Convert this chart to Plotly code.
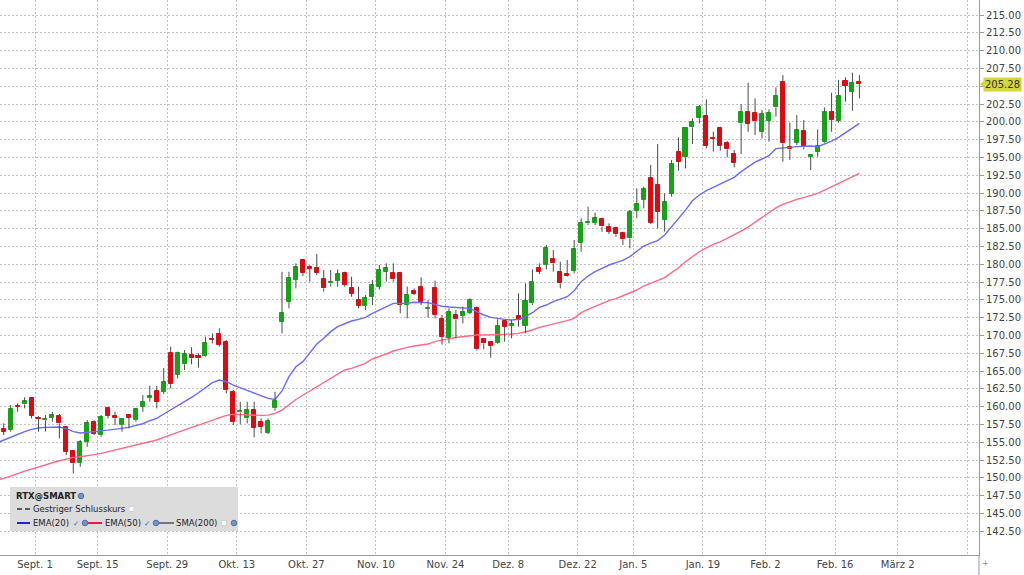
import plotly.graph_objects as go

# ---------------- data ----------------
first_index = -5  # trading-day index of first candle (Aug 25); 0 = Sept 2
opens = [156.80, 156.71, 160.13, 160.31, 161.16, 158.44, 158.07, 158.39, 158.68, 157.08,
         153.76, 152.12, 155.07, 157.83, 156.00, 159.85, 158.68, 157.41, 158.77, 158.11,
         159.99, 161.25, 162.20, 162.05, 167.53, 164.44, 165.94, 167.25, 167.11, 167.11,
         169.50, 170.15, 169.12, 162.10, 159.20, 158.35, 159.52, 157.79, 156.34, 159.76,
         171.93, 174.74, 177.78, 180.59, 179.65, 179.42, 177.92, 177.31, 177.69, 178.72,
         176.61, 174.97, 174.13, 175.44, 176.85, 178.95, 178.72, 178.81, 174.27, 176.24,
         176.85, 173.71, 176.61, 172.35, 169.59, 172.87, 172.73, 173.19, 173.80, 169.45,
         169.12, 168.89, 172.07, 171.37, 172.73, 171.32, 174.50, 179.51, 179.89, 180.68,
         178.95, 178.62, 179.09, 183.02, 185.74, 185.83, 186.30, 185.22, 185.04, 184.34,
         183.63, 187.52, 189.02, 192.06, 191.12, 186.20, 189.86, 195.80, 195.00, 199.22,
         200.49, 200.81, 197.77, 199.18, 196.97, 195.48, 199.78, 201.42, 201.19, 198.61,
         200.16, 202.03, 205.64, 196.41, 197.07, 198.71, 195.10, 195.80, 197.21, 201.42,
         200.16, 205.78, 204.23, 205.64]
highs = [157.65, 160.22, 160.45, 161.30, 161.30, 158.68, 158.82, 159.28, 158.96, 157.27,
         153.85, 155.30, 158.11, 158.11, 158.82, 159.99, 159.28, 158.35, 158.96, 159.75,
         161.63, 162.94, 162.90, 165.40, 168.41, 167.72, 167.95, 168.33, 167.48, 169.82,
         170.29, 170.99, 169.36, 162.33, 160.69, 160.69, 160.69, 158.35, 158.35, 162.10,
         178.95, 178.95, 180.12, 180.68, 179.89, 181.43, 179.19, 179.19, 179.28, 178.95,
         178.25, 176.85, 175.68, 177.78, 179.89, 180.12, 180.12, 178.95, 176.85, 176.61,
         178.16, 174.97, 177.69, 172.87, 173.80, 173.57, 174.04, 175.21, 174.04, 169.59,
         169.20, 172.26, 172.16, 172.16, 175.91, 177.31, 179.28, 180.12, 182.70, 181.99,
         180.36, 180.59, 183.40, 186.44, 188.08, 187.24, 186.55, 185.74, 185.27, 184.57,
         187.62, 190.65, 190.89, 193.93, 196.88, 189.95, 194.63, 197.82, 199.20, 200.49,
         202.36, 203.15, 198.61, 199.30, 197.30, 196.04, 202.50, 205.50, 203.30, 201.66,
         201.75, 204.84, 206.57, 199.88, 200.96, 200.25, 195.40, 198.94, 202.03, 204.09,
         205.87, 206.25, 206.90, 206.57]
lows = [156.00, 156.48, 159.28, 159.75, 158.35, 156.48, 156.48, 157.88, 155.54, 153.20,
        150.62, 151.56, 154.37, 156.00, 155.77, 158.35, 157.41, 156.48, 156.94, 157.88,
        159.28, 160.69, 159.75, 161.80, 162.56, 163.97, 165.14, 165.94, 165.47, 167.02,
        168.89, 168.42, 161.86, 157.42, 157.51, 157.65, 155.69, 156.25, 156.15, 159.43,
        170.29, 173.80, 176.61, 178.34, 177.55, 178.48, 176.14, 176.85, 176.85, 176.85,
        175.44, 173.80, 173.57, 174.27, 176.47, 177.55, 177.55, 173.10, 172.40, 175.68,
        174.27, 172.49, 172.40, 168.70, 168.89, 169.59, 171.70, 173.00, 167.86, 168.04,
        166.87, 168.79, 169.12, 169.59, 171.23, 170.29, 174.27, 178.62, 179.28, 178.95,
        176.61, 178.25, 178.72, 181.76, 185.50, 185.50, 184.57, 184.24, 183.87, 182.70,
        182.23, 186.44, 187.85, 185.65, 185.04, 184.57, 189.49, 193.14, 193.46, 196.88,
        199.78, 196.27, 195.80, 195.94, 195.01, 193.60, 195.48, 198.61, 198.15, 197.68,
        197.21, 200.72, 194.40, 194.64, 196.74, 196.13, 193.23, 195.10, 197.07, 198.61,
        199.88, 202.83, 201.56, 203.30]
closes = [156.45, 159.66, 159.94, 160.78, 158.68, 158.21, 158.30, 158.77, 157.65, 153.67,
          152.03, 155.07, 157.74, 156.15, 158.49, 158.68, 158.39, 158.26, 158.44, 159.61,
          160.69, 161.50, 160.65, 163.50, 163.20, 167.48, 167.34, 166.78, 166.78, 168.89,
          169.36, 168.65, 162.33, 157.88, 159.40, 159.52, 157.06, 157.18, 157.98, 160.80,
          173.19, 178.11, 179.56, 178.81, 179.37, 178.81, 176.61, 177.55, 178.62, 177.08,
          175.82, 174.13, 175.21, 177.08, 179.19, 179.42, 177.88, 174.27, 175.68, 175.82,
          174.74, 173.90, 172.87, 169.78, 173.33, 172.26, 173.33, 174.97, 168.04, 168.89,
          168.56, 171.32, 171.23, 171.60, 172.16, 174.83, 177.55, 178.95, 182.23, 180.12,
          177.31, 178.34, 182.09, 185.83, 185.97, 186.44, 185.30, 184.57, 184.20, 183.50,
          187.38, 188.45, 190.51, 185.83, 187.38, 188.69, 194.07, 194.40, 199.08, 200.02,
          202.13, 196.60, 197.58, 196.60, 196.13, 194.26, 201.42, 199.72, 200.16, 201.10,
          201.28, 203.62, 196.98, 196.13, 198.85, 196.41, 195.34, 196.60, 201.42, 200.25,
          203.62, 205.03, 205.50, 205.28]

ema_first_index = -6
ema20 = [154.90, 155.30, 155.77, 156.15, 156.48, 156.80, 157.00, 157.08, 157.08, 157.13,
         156.90, 156.48, 156.30, 156.43, 156.50, 156.60, 156.70, 156.80, 156.94, 157.08,
         157.37, 157.60, 158.02, 158.35, 158.96, 159.52, 160.20, 160.69, 161.30, 161.95,
         162.65, 163.36, 163.73, 163.50, 163.03, 162.66, 162.30, 161.86, 161.48, 161.16,
         161.00, 162.20, 164.20, 165.60, 166.31, 167.48, 168.79, 169.59, 170.53, 171.23,
         171.60, 172.02, 172.26, 172.54, 173.10, 173.57, 174.04, 174.50, 174.50, 174.50,
         174.65, 174.60, 174.60, 174.36, 174.10, 174.00, 173.90, 173.82, 173.80, 173.33,
         172.87, 172.54, 172.35, 172.26, 172.16, 172.26, 172.63, 173.19, 173.94, 174.27,
         174.74, 175.07, 175.44, 176.28, 177.55, 178.34, 178.95, 179.42, 179.89, 180.22,
         180.55, 181.06, 181.76, 182.56, 182.97, 183.31, 184.10, 185.25, 186.50, 187.60,
         188.92, 189.72, 190.33, 190.80, 191.26, 191.83, 192.20, 193.00, 193.70, 194.35,
         194.78, 195.24, 196.23, 196.37, 196.41, 196.51, 196.60, 196.60, 196.51, 196.88,
         197.30, 197.82, 198.47, 199.22, 199.78]
ema50 = [149.70, 149.92, 150.25, 150.62, 150.95, 151.23, 151.56, 151.84, 152.12, 152.40,
         152.68, 152.87, 152.96, 153.06, 153.25, 153.43, 153.67, 153.90, 154.09, 154.32,
         154.56, 154.79, 155.03, 155.31, 155.68, 156.05, 156.43, 156.80, 157.08, 157.41,
         157.74, 158.11, 158.44, 158.77, 158.91, 158.86, 158.82, 158.82, 158.77, 158.80,
         159.05, 159.52, 160.30, 161.00, 161.60, 162.20, 162.80, 163.40, 164.00, 164.60,
         165.14, 165.38, 165.70, 166.08, 166.69, 167.02, 167.39, 167.81, 168.09, 168.33,
         168.51, 168.65, 168.79, 169.12, 169.36, 169.55, 169.70, 169.82, 169.96, 170.06,
         170.06, 170.06, 170.10, 170.15, 170.20, 170.29, 170.52, 170.76, 171.13, 171.37,
         171.60, 171.79, 172.07, 172.40, 173.19, 173.66, 174.08, 174.50, 174.88, 175.16,
         175.53, 175.95, 176.38, 176.94, 177.31, 177.73, 178.11, 178.81, 179.51, 180.35,
         181.05, 181.75, 182.30, 182.80, 183.15, 183.63, 184.10, 184.64, 185.22, 185.90,
         186.55, 187.30, 187.90, 188.40, 188.78, 189.11, 189.35, 189.63, 189.95, 190.42,
         190.89, 191.36, 191.92, 192.39, 192.76]

x_tick_index = [0, 9, 19, 29, 39, 49, 59, 68, 78, 86, 96, 105, 115, 124, 134]
x_tick_labels = ["Sept. 1", "Sept. 15", "Sept. 29", "Okt. 13", "Okt. 27", "Nov. 10",
                 "Nov. 24", "Dez. 8", "Dez. 22", "Jan. 5", "Jan. 19", "Feb. 2",
                 "Feb. 16", "März 2", ""]
y_tick_values = [142.5, 145.0, 147.5, 150.0, 152.5, 155.0, 157.5, 160.0, 162.5, 165.0,
                 167.5, 170.0, 172.5, 175.0, 177.5, 180.0, 182.5, 185.0, 187.5, 190.0,
                 192.5, 195.0, 197.5, 200.0, 202.5, 205.0, 207.5, 210.0, 212.5, 215.0]
last_price = 205.28

# ---------------- styling ----------------
GREEN = "#17a317"
RED = "#de0a12"
WICK = "#4a4a4a"
BLUE = "#6a6aff"
PINK = "#ff6a85"
GRID = "#c2c2c2"
AXIS = "#9a9a9a"
FONT = "DejaVu Sans"

W, H = 1024, 575
PLOT_R, PLOT_B = 979, 555  # plot area right / bottom in pixels

idx = list(range(first_index, first_index + len(opens)))
ema_idx = list(range(ema_first_index, ema_first_index + len(ema20)))

body_base = [min(o, c) for o, c in zip(opens, closes)]
body_len = [abs(c - o) for o, c in zip(opens, closes)]
body_col = [GREEN if c >= o else RED for o, c in zip(opens, closes)]

wx, wy = [], []
for i, o, h, l, c in zip(idx, opens, highs, lows, closes):
    lo, hi = min(o, c), max(o, c)
    wx += [i, i, None, i, i, None]
    wy += [l, lo, None, hi, h, None]

fig = go.Figure()
fig.add_trace(go.Scatter(x=ema_idx, y=ema50, mode="lines",
                         line=dict(color=PINK, width=1.4), hoverinfo="skip"))
fig.add_trace(go.Scatter(x=ema_idx, y=ema20, mode="lines",
                         line=dict(color=BLUE, width=1.4), hoverinfo="skip"))
fig.add_trace(go.Bar(x=idx, y=body_len, base=body_base, width=0.58,
                     marker=dict(color=body_col, line=dict(color=body_col, width=1)),
                     hoverinfo="skip"))
fig.add_trace(go.Scatter(x=wx, y=wy, mode="lines",
                         line=dict(color=WICK, width=1), hoverinfo="skip"))

y_lo, y_hi = 139.16, 217.11
x_lo, x_hi = -5.534, 135.19

fig.update_layout(
    width=W, height=H,
    margin=dict(l=0, r=W - PLOT_R, t=0, b=H - PLOT_B),
    plot_bgcolor="white", paper_bgcolor="white",
    showlegend=False, barmode="overlay", bargap=0,
    font=dict(family=FONT, size=10, color="#444"),
    xaxis=dict(range=[x_lo, x_hi], tickvals=[t - 0.5 for t in x_tick_index],
               ticktext=x_tick_labels, showgrid=True, gridcolor=GRID, griddash="2px,2px",
               gridwidth=1, zeroline=False, showline=True, linecolor=AXIS,
               ticks="", tickfont=dict(size=10, color="#444", family=FONT)),
    yaxis=dict(range=[y_lo, y_hi], side="right", tickvals=y_tick_values,
               ticktext=["" if abs(v - 205.0) < 1e-9 else f"{v:.2f}" for v in y_tick_values],
               showgrid=True, gridcolor=GRID, griddash="2px,2px", gridwidth=1,
               zeroline=False, showline=True, linecolor=AXIS, ticks="outside",
               ticklen=4, tickcolor=AXIS, tickfont=dict(size=10, color="#444", family=FONT)),
)


def px(x):
    return x / PLOT_R


def py(y):
    return 1 - y / PLOT_B


shapes = []
annotations = []
# right axis line extension to the bottom of the figure
shapes.append(dict(type="line", xref="paper", yref="paper", x0=1, x1=1, y0=py(PLOT_B), y1=py(H),
                   line=dict(color=AXIS, width=1)))
# last price marker
yl = last_price
annotations.append(dict(xref="paper", yref="y", x=px(983), y=yl, xanchor="left", yanchor="middle",
                        text=f"{last_price:.2f}", showarrow=False, bgcolor="#d6d638",
                        borderpad=1, font=dict(size=10, color="#333", family=FONT)))
shapes.append(dict(type="path", xref="paper", yref="y",
                   path=f"M {px(980)} {yl} L {px(984)} {yl + 0.45} L {px(984)} {yl - 0.45} Z",
                   fillcolor="#d6d638", line=dict(width=0)))
annotations.append(dict(xref="paper", yref="paper", x=px(986), y=py(563), text="+", showarrow=False,
                        xanchor="center", yanchor="middle", font=dict(size=8, color="#888")))

# legend box
shapes.append(dict(type="rect", xref="paper", yref="paper", x0=px(10), x1=px(238), y0=py(531), y1=py(487),
                   fillcolor="#dcdcdc", line=dict(width=0), layer="above"))

LEG = 8.5


def text(x, y, s, size=LEG, color="#222", bold=False):
    annotations.append(dict(xref="paper", yref="paper", x=px(x), y=py(y), xanchor="left",
                            yanchor="middle", text=f"<b>{s}</b>" if bold else s, showarrow=False,
                            borderpad=0, font=dict(size=size, color=color, family=FONT)))


def globe(x, y):
    shapes.append(dict(type="circle", xref="paper", yref="paper", x0=px(x - 2.8), x1=px(x + 2.8),
                       y0=py(y + 2.8), y1=py(y - 2.8), fillcolor="#7394c6",
                       line=dict(color="#4d6ea3", width=1), layer="above"))


def hline(x0, x1, y, color, width=2, dash="solid"):
    shapes.append(dict(type="line", xref="paper", yref="paper", x0=px(x0), x1=px(x1), y0=py(y), y1=py(y),
                       line=dict(color=color, width=width, dash=dash), layer="above"))


def box(x, y):
    shapes.append(dict(type="rect", xref="paper", yref="paper", x0=px(x - 2.5), x1=px(x + 2.5),
                       y0=py(y + 2.5), y1=py(y - 2.5), fillcolor="white",
                       line=dict(color="#d0d0d0", width=1), layer="above"))


text(15, 496, "RTX@SMART", bold=True)
globe(81, 496)
hline(17, 30, 509, "#333", width=1.5, dash="5px,3px")
text(32, 509, "Gestriger Schlusskurs")
box(131.5, 509)
hline(17, 30, 523, "#2222d0")
text(32, 523, "EMA(20)")
text(72, 523, "✓", size=7.5, color="#2a6acf")
globe(85, 523)
hline(88, 102, 523, "#e0203c")
text(104, 523, "EMA(50)")
text(143, 523, "✓", size=7.5, color="#2a6acf")
globe(156, 523)
hline(159, 174, 523, "#555", width=1.5)
text(175, 523, "SMA(200)")
box(224, 523)
globe(234, 523)

fig.update_layout(shapes=shapes, annotations=annotations)

fig.write_html("out.html", config={"displayModeBar": False},
               post_script="document.body.style.margin='0';")
